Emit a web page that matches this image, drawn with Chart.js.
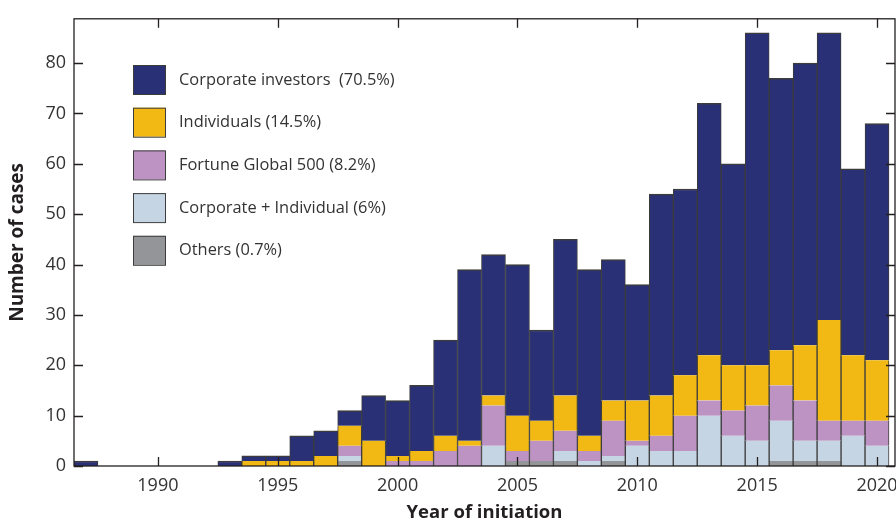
<!DOCTYPE html>
<html>
<head>
<meta charset="utf-8">
<script src="https://cdn.jsdelivr.net/npm/chart.js@4.4.0/dist/chart.umd.min.js"></script>
<style>
  html, body { margin: 0; padding: 0; background: #fff; }
  canvas { display: block; }
</style>
</head>
<body>
<canvas id="casesChart" width="896" height="524"></canvas>
<script>
// Year of initiation, 1987 - 2020
const years = [1987, 1988, 1989, 1990, 1991, 1992, 1993, 1994, 1995, 1996, 1997, 1998,
  1999, 2000, 2001, 2002, 2003, 2004, 2005, 2006, 2007, 2008, 2009, 2010, 2011, 2012,
  2013, 2014, 2015, 2016, 2017, 2018, 2019, 2020];

// number of cases per group
const corporate = [1, 0, 0, 0, 0, 0, 1, 1, 1, 5, 5, 3,
  9, 11, 13, 19, 34, 28, 30, 18, 31, 33, 28, 23, 40, 37,
  50, 40, 66, 54, 56, 57, 37, 47];
const individuals = [0, 0, 0, 0, 0, 0, 0, 1, 1, 1, 2, 4,
  5, 1, 2, 3, 1, 2, 7, 4, 7, 3, 4, 8, 8, 8,
  9, 9, 8, 7, 11, 20, 13, 12];
const fortune500 = [0, 0, 0, 0, 0, 0, 0, 0, 0, 0, 0, 2,
  0, 1, 1, 3, 4, 8, 2, 4, 4, 2, 7, 1, 3, 7,
  3, 5, 7, 7, 8, 4, 3, 5];
const corpIndividual = [0, 0, 0, 0, 0, 0, 0, 0, 0, 0, 0, 1,
  0, 0, 0, 0, 0, 4, 0, 0, 2, 1, 1, 4, 3, 3,
  10, 6, 5, 8, 4, 4, 6, 4];
const others = [0, 0, 0, 0, 0, 0, 0, 0, 0, 0, 0, 1,
  0, 0, 0, 0, 0, 0, 1, 1, 1, 0, 1, 0, 0, 0,
  0, 0, 0, 1, 1, 1, 0, 0];

const tickYears = [1990, 1995, 2000, 2005, 2010, 2015, 2020];
const tickCases = [0, 10, 20, 30, 40, 50, 60, 70, 80];

const FONT = '"Open Sans", "Noto Sans", sans-serif';
const INK = '#231f20';

const toPoints = (vals) => years.map((yr, i) => ({ x: yr, y: vals[i] }));

// bottom -> top in the stack
function makeSet(label, vals, color, top) {
    return {
        label: label,
        data: toPoints(vals),
        backgroundColor: color,
        borderColor: '#3c3c3c',
        borderWidth: { left: 1, right: 1, top: top ? 1.5 : 0, bottom: 0 },
        borderSkipped: false,
        stack: 'cases',
        barPercentage: 1,
        categoryPercentage: 1
    };
}

// box round the plot with inward ticks on all four sides
const framePlugin = {
    id: 'frame',
    afterDatasetsDraw(chart) {
        const { ctx, chartArea: a, scales: { x, y } } = chart;
        ctx.save();
        ctx.strokeStyle = INK;
        ctx.lineWidth = 1.3;
        ctx.strokeRect(a.left, a.top, a.right - a.left, a.bottom - a.top);
        ctx.beginPath();
        tickYears.forEach(v => {
            const px = Math.round(x.getPixelForValue(v)) + 0.5;
            ctx.moveTo(px, a.bottom);
            ctx.lineTo(px, a.bottom - 9);
            ctx.moveTo(px, a.top);
            ctx.lineTo(px, a.top + 9);
        });
        tickCases.forEach(v => {
            const py = Math.round(y.getPixelForValue(v)) + 0.5;
            ctx.moveTo(a.left, py);
            ctx.lineTo(a.left + 9, py);
            ctx.moveTo(a.right, py);
            ctx.lineTo(a.right - 9, py);
        });
        ctx.stroke();
        ctx.restore();
    }
};

// legend with big squares inside the plot
const legendPlugin = {
    id: 'boxLegend',
    afterDraw(chart) {
        const { ctx } = chart;
        const items = chart.data.datasets.slice().reverse();
        ctx.save();
        ctx.font = '16.4px ' + FONT;
        ctx.textBaseline = 'middle';
        items.forEach((ds, i) => {
            const top = 65 + i * 42.7;
            ctx.fillStyle = ds.backgroundColor;
            ctx.fillRect(133, top, 32, 29);
            ctx.strokeStyle = '#3c3c3c';
            ctx.lineWidth = 1;
            ctx.strokeRect(133.5, top + 0.5, 32, 29);
            ctx.fillStyle = '#333';
            ctx.fillText(ds.label, 179, top + 15);
        });
        ctx.restore();
    }
};

const ctx = document.getElementById('casesChart').getContext('2d');
new Chart(ctx, {
    type: 'bar',
    data: {
        datasets: [
            makeSet('Others (0.7%)', others, '#939598', false),
            makeSet('Corporate + Individual (6%)', corpIndividual, '#c6d5e3', false),
            makeSet('Fortune Global 500 (8.2%)', fortune500, '#bd93c3', false),
            makeSet('Individuals (14.5%)', individuals, '#f2b813', false),
            makeSet('Corporate investors  (70.5%)', corporate, '#293076', true)
        ]
    },
    options: {
        responsive: false,
        animation: false,
        layout: { padding: { top: 13, right: 1, left: 0, bottom: 0 } },
        plugins: {
            legend: { display: false },
            tooltip: { enabled: false }
        },
        scales: {
            x: {
                type: 'linear',
                min: 1986.5,
                max: 2020.75,
                offset: false,
                stacked: true,
                grid: { display: false, drawTicks: false, offset: false },
                border: { display: false },
                afterBuildTicks: (scale) => { scale.ticks = tickYears.map(v => ({ value: v })); },
                afterFit: (scale) => {
                    scale.height = 58;
                    scale.paddingLeft = 0;
                    scale.paddingRight = 0;
                },
                ticks: {
                    color: '#333',
                    font: { family: FONT, size: 18 },
                    padding: 9,
                    maxRotation: 0,
                    callback: (v) => String(v)
                },
                title: {
                    display: true,
                    text: 'Year of initiation',
                    color: INK,
                    font: { family: FONT, size: 18.5, weight: 'bold' },
                    padding: { top: 0, bottom: 0 }
                }
            },
            y: {
                min: 0,
                max: 88.8,
                stacked: true,
                grid: { display: false, drawTicks: false },
                border: { display: false },
                afterBuildTicks: (scale) => { scale.ticks = tickCases.map(v => ({ value: v })); },
                afterFit: (scale) => { scale.width = 74; },
                ticks: {
                    color: '#333',
                    font: { family: FONT, size: 18 },
                    padding: 8
                },
                title: {
                    display: true,
                    text: 'Number of cases',
                    color: INK,
                    font: { family: FONT, size: 19, weight: 'bold' },
                    padding: { top: 6, bottom: 0 }
                }
            }
        }
    },
    plugins: [framePlugin, legendPlugin]
});
</script>
</body>
</html>
